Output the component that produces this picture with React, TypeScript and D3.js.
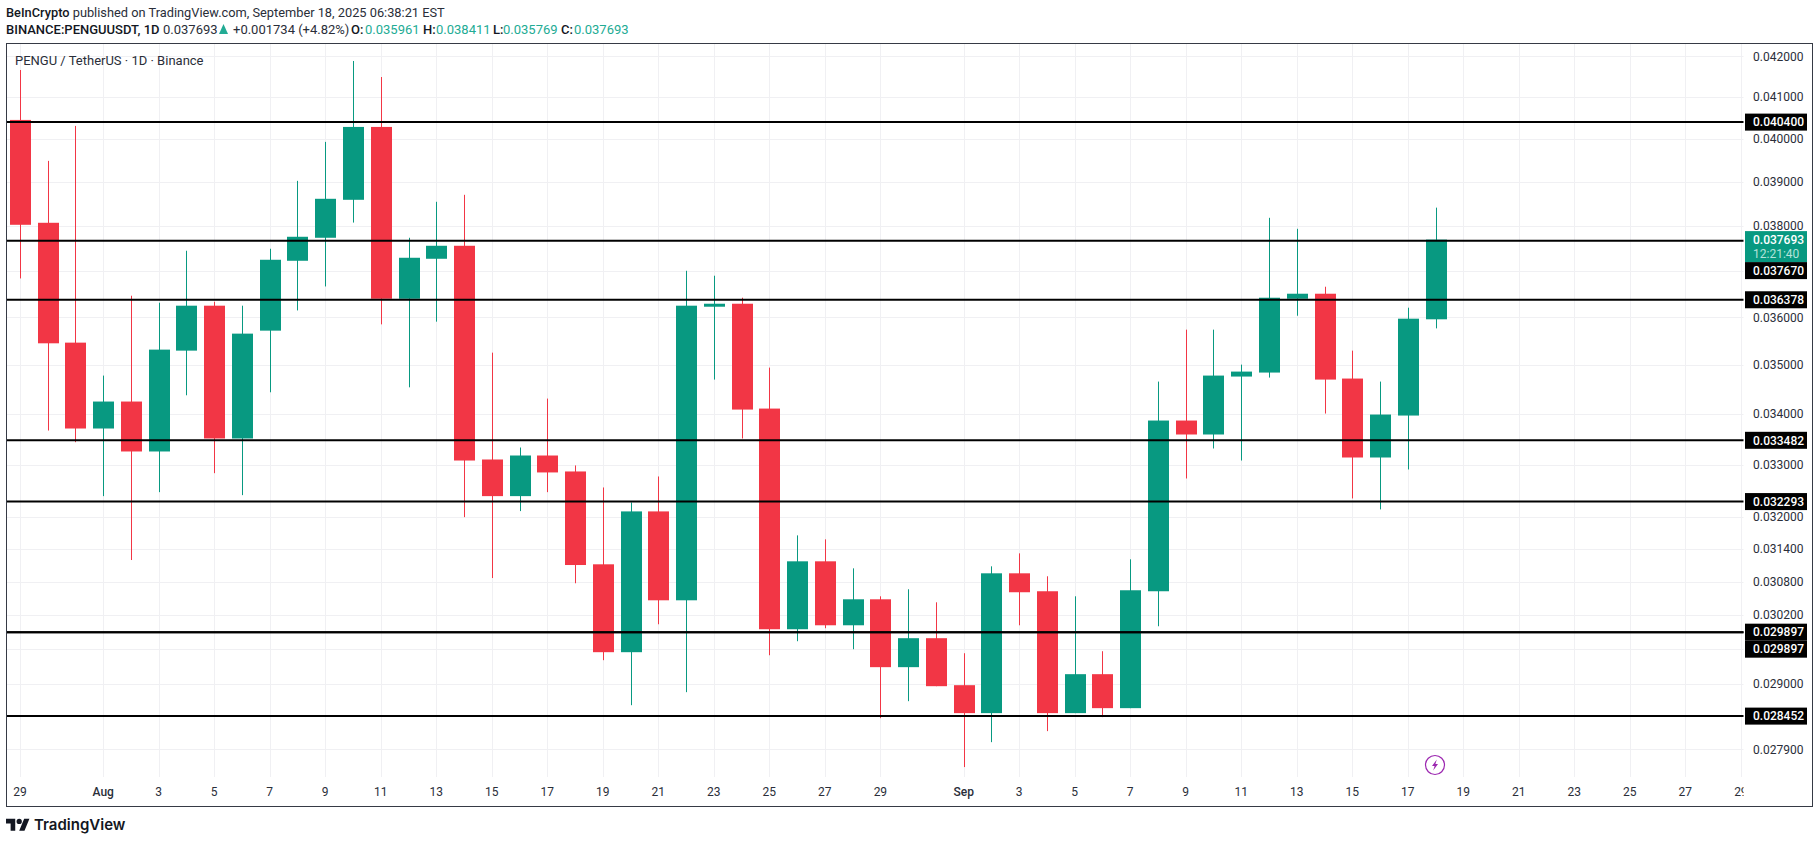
import React from 'react';
import * as d3 from 'd3';

// daily candles from Jul 29 2025
const firstDay = '2025-07-29';
const opens = [0.040452, 0.038069, 0.035469, 0.033716, 0.034257, 0.033262, 0.035302, 0.036251, 0.033518, 0.035721, 0.037225, 0.037734, 0.038589, 0.040285, 0.0364, 0.037269, 0.037556, 0.033105, 0.032397, 0.033183, 0.032872, 0.031119, 0.029546, 0.032106, 0.030465, 0.036229, 0.036293, 0.034115, 0.029949, 0.031174, 0.030019, 0.030483, 0.029286, 0.029791, 0.028976, 0.028502, 0.030954, 0.030628, 0.028502, 0.029165, 0.028586, 0.030628, 0.033875, 0.033597, 0.034766, 0.034848, 0.0364, 0.036508, 0.034725, 0.033144, 0.033975, 0.035961];
const highs = [0.041662, 0.039486, 0.040309, 0.034786, 0.036465, 0.036315, 0.037446, 0.036336, 0.036251, 0.03749, 0.039023, 0.039931, 0.041884, 0.04149, 0.037734, 0.038544, 0.038703, 0.03526, 0.03334, 0.034317, 0.032989, 0.032563, 0.032277, 0.032775, 0.037006, 0.036898, 0.036422, 0.03495, 0.031655, 0.031581, 0.031045, 0.030537, 0.030664, 0.030429, 0.029528, 0.031082, 0.031321, 0.0309, 0.030537, 0.029563, 0.031211, 0.034663, 0.035742, 0.035742, 0.035012, 0.038181, 0.037934, 0.036659, 0.035302, 0.034663, 0.036208, 0.038411];
const lows = [0.036839, 0.033676, 0.033445, 0.032397, 0.031198, 0.032473, 0.034384, 0.032839, 0.032416, 0.034445, 0.03615, 0.036665, 0.038074, 0.035854, 0.034546, 0.035911, 0.031998, 0.030868, 0.032112, 0.032473, 0.030773, 0.029407, 0.028636, 0.030037, 0.028857, 0.034704, 0.033518, 0.029493, 0.029738, 0.029967, 0.029598, 0.028418, 0.028704, 0.028959, 0.027609, 0.028018, 0.030019, 0.028201, 0.028502, 0.028435, 0.028586, 0.030002, 0.032736, 0.033321, 0.033085, 0.034745, 0.036037, 0.034015, 0.032353, 0.032144, 0.032911, 0.035769];
const closes = [0.038024, 0.035455, 0.033716, 0.034257, 0.033262, 0.035323, 0.036251, 0.033518, 0.035658, 0.037247, 0.037756, 0.038612, 0.040285, 0.0364, 0.037291, 0.037556, 0.033085, 0.032397, 0.033183, 0.032853, 0.031106, 0.029546, 0.032106, 0.030465, 0.036251, 0.036293, 0.034095, 0.029949, 0.031174, 0.030019, 0.030483, 0.029286, 0.029791, 0.028959, 0.028502, 0.030954, 0.03061, 0.028502, 0.029165, 0.028586, 0.030646, 0.033875, 0.033597, 0.034786, 0.034868, 0.036422, 0.036508, 0.034704, 0.033144, 0.033995, 0.035974, 0.037693];

const priceTicks = [0.042, 0.041, 0.04, 0.039, 0.038, 0.037, 0.036, 0.035, 0.034, 0.033, 0.032, 0.0314, 0.0308, 0.0302, 0.0296, 0.029, 0.0279];
const hiddenPriceLabels = [0.037, 0.0296];
const levels = [0.0404, 0.03767, 0.036378, 0.033482, 0.032293, 0.029897, 0.029897, 0.028452];
const lastPrice = 0.037693;
const countdown = '12:21:40';

const dateTicks = ['2025-07-29', '2025-08-01', '2025-08-03', '2025-08-05', '2025-08-07', '2025-08-09', '2025-08-11', '2025-08-13', '2025-08-15', '2025-08-17', '2025-08-19', '2025-08-21', '2025-08-23', '2025-08-25', '2025-08-27', '2025-08-29', '2025-09-01', '2025-09-03', '2025-09-05', '2025-09-07', '2025-09-09', '2025-09-11', '2025-09-13', '2025-09-15', '2025-09-17', '2025-09-19', '2025-09-21', '2025-09-23', '2025-09-25', '2025-09-27', '2025-09-29'];

const UP = '#089981';
const DOWN = '#f23645';
const INK = '#131722';
const AXIS_TEXT = '#2a2e39';
const GRID = '#f0f0f3';
const FONT = 'Roboto, sans-serif';

const W = 1819;
const H = 843;
const frame = { left: 6.5, top: 43.5, right: 1812.5, bottom: 806.5 };
const plotRight = 1743.5;
const gridBottom = 777;

const day = d3.utcParse('%Y-%m-%d');
const fmt = d3.format('.6f');

const y = d3.scaleLog().domain([0.042, 0.0279]).range([56.3, 749.3]);
const x = d3.scaleUtc()
  .domain([day('2025-07-29') as Date, day('2025-09-19') as Date])
  .range([19.9, 1463.3]);

const candleDate = (i: number) => d3.utcDay.offset(day(firstDay) as Date, i);
const tickLabel = (s: string) => {
  const d = day(s) as Date;
  return d.getUTCDate() === 1 ? d3.utcFormat('%b')(d) : String(d.getUTCDate());
};

// push a black price tag down when it would sit on the last price tag or the tag above
const TAG_H = 17;
const lastTop = y(lastPrice) - 8.5;
const lastBottom = lastTop + 31;
const tags: { value: number; top: number }[] = [];
{
  let prevBottom = -Infinity;
  [...levels].sort((a, b) => b - a).forEach((value) => {
    let top = y(value) - TAG_H / 2;
    if (top < lastBottom && top + TAG_H > lastTop) top = lastBottom;
    if (top < prevBottom) top = prevBottom;
    tags.push({ value, top });
    prevBottom = top + TAG_H;
  });
}

export default function App() {
  return (
    <svg width={W} height={H} style={{ position: 'absolute', left: 0, top: 0, background: '#fff' }} fontFamily={FONT}>
      <defs>
        <clipPath id="plot"><rect x={frame.left} y={frame.top} width={plotRight - frame.left} height={frame.bottom - frame.top} /></clipPath>
      </defs>

      {/* header */}
      <text x={6} y={17} fontSize={12.8} fill={AXIS_TEXT}>
        <tspan fontWeight={500} fill={INK}>BeInCrypto</tspan> published on TradingView.com, September 18, 2025 06:38:21 EST
      </text>
      <g fontSize={13} fill={AXIS_TEXT}>
        <text x={6} y={34} fontWeight={500} fill={INK}>BINANCE:PENGUUSDT, 1D</text>
        <text x={163} y={34}>0.037693</text>
        <path d="M219 34l4.5-10 4.5 10z" fill="#22ab94" />
        <text x={233} y={34}>+0.001734 (+4.82%)</text>
        {[['O:', 351, '0.035961', 365], ['H:', 423, '0.038411', 436], ['L:', 493, '0.035769', 503], ['C:', 561, '0.037693', 574]].map((d) => (
          <g key={d[0] as string}>
            <text x={d[1]} y={34} fontWeight={500} fill={INK}>{d[0]}</text>
            <text x={d[3]} y={34} fill="#22ab94">{d[2]}</text>
          </g>
        ))}
      </g>

      {/* grid */}
      <g stroke={GRID} strokeWidth={1}>
        {priceTicks.map((p) => (
          <line key={p} x1={frame.left} x2={plotRight} y1={Math.round(y(p)) + 0.5} y2={Math.round(y(p)) + 0.5} />
        ))}
        {dateTicks.map((s) => (
          <line key={s} x1={Math.round(x(day(s) as Date)) + 0.5} x2={Math.round(x(day(s) as Date)) + 0.5} y1={frame.top} y2={gridBottom} />
        ))}
      </g>

      <text x={15} y={65} fontSize={13} fill={AXIS_TEXT}>PENGU / TetherUS · 1D · Binance</text>

      {/* candles */}
      <g clipPath="url(#plot)">
        {opens.map((o, i) => {
          const c = closes[i];
          const col = c >= o ? UP : DOWN;
          const cx = Math.round(x(candleDate(i)));
          const top = y(Math.max(o, c));
          const bottom = y(Math.min(o, c));
          return (
            <g key={i} fill={col}>
              <rect x={cx} y={y(highs[i])} width={1} height={y(lows[i]) - y(highs[i])} />
              <rect x={cx - 10} y={top} width={21} height={Math.max(bottom - top, 1)} />
            </g>
          );
        })}
      </g>

      {/* horizontal levels */}
      <g stroke="#000" strokeWidth={2}>
        {levels.map((l, i) => (
          <line key={i} x1={frame.left} x2={plotRight} y1={y(l)} y2={y(l)} />
        ))}
      </g>

      {/* price axis */}
      <g fontSize={12} fill={AXIS_TEXT}>
        {priceTicks.filter((p) => !hiddenPriceLabels.includes(p)).map((p) => (
          <text key={p} x={1753} y={y(p)} dy="0.35em">{fmt(p)}</text>
        ))}
      </g>
      <rect x={1745} y={lastTop} width={62} height={lastBottom - lastTop} fill={UP} />
      <text x={1753} y={y(lastPrice)} dy="0.35em" fontSize={12} fontWeight={500} fill="#fff">{fmt(lastPrice)}</text>
      <text x={1753} y={y(lastPrice) + 14.5} dy="0.35em" fontSize={12} fill="#b5e3da">{countdown}</text>
      {tags.map((t, i) => (
        <g key={i}>
          <rect x={1745} y={t.top} width={62} height={TAG_H} fill="#000" />
          <text x={1753} y={t.top + TAG_H / 2} dy="0.35em" fontSize={12} fontWeight={500} fill="#fff">{fmt(t.value)}</text>
        </g>
      ))}

      {/* time axis */}
      <g fontSize={12} fill={AXIS_TEXT} textAnchor="middle" clipPath="url(#plot)">
        {dateTicks.map((s) => {
          const lab = tickLabel(s);
          return (
            <text key={s} x={x(day(s) as Date)} y={796} fontWeight={lab.length > 2 ? 500 : 400}>{lab}</text>
          );
        })}
      </g>

      {/* frame */}
      <rect x={frame.left} y={frame.top} width={frame.right - frame.left} height={frame.bottom - frame.top} fill="none" stroke="#363a45" strokeWidth={1} />

      {/* event marker */}
      <g transform="translate(1435,765)">
        <circle r={9.5} fill="#fff" stroke="#9c27b0" strokeWidth={1.2} />
        <path d="M1.8-5.5L-3 1H-.4L-1.8 5.5 3-1H.4z" fill="#9c27b0" />
      </g>

      {/* logo */}
      <g transform="translate(6,816.2) scale(0.66)" fill={INK}>
        <path d="M14 22H7V11H0V4h14v18zM28 22h-8l7.5-18h8L28 22z" />
        <circle cx={20} cy={8} r={4} />
      </g>
      <text x={34} y={830} fontFamily="Inter, sans-serif" fontWeight={600} fontSize={15} fill={INK}>TradingView</text>
    </svg>
  );
}
